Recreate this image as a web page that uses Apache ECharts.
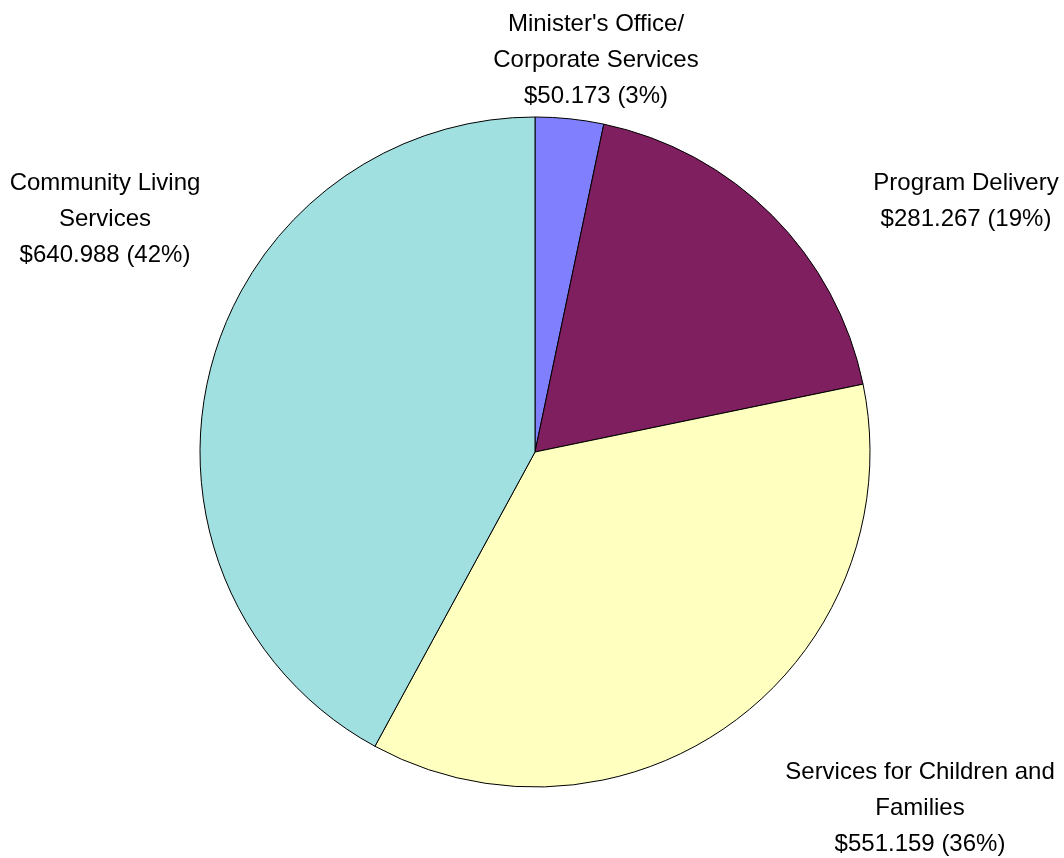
<!DOCTYPE html>
<html>
<head>
<meta charset="utf-8">
<script src="https://cdn.jsdelivr.net/npm/echarts@6/dist/echarts.min.js"></script>
<style>html,body{margin:0;padding:0;background:#fff;}#c{width:1064px;height:858px;}</style>
</head>
<body>
<div id="c"></div>
<script>
const categories = ["Minister's Office/\nCorporate Services", "Program Delivery", "Services for Children and\nFamilies", "Community Living\nServices"];
const values = [50.173, 281.267, 551.159, 640.988];
const percents = ["3%", "19%", "36%", "42%"];
const colors = ["#8080FF", "#7F1F5F", "#FFFFC0", "#A0E0E0"];
// label anchor positions (style, pixels)
const labelPos = [[596, 60], [966, 201], [920, 808], [105, 219]];

const chart = echarts.init(document.getElementById('c'), null, {renderer: 'canvas'});
chart.setOption({
  animation: false,
  series: [{
    type: 'pie',
    center: [535, 452],
    radius: 335,
    startAngle: 90,
    clockwise: true,
    avoidLabelOverlap: false,
    data: categories.map((n, i) => ({name: n, value: values[i], itemStyle: {color: colors[i]}})),
    itemStyle: {borderColor: '#000', borderWidth: 1},
    label: {
      show: true,
      position: 'outside',
      formatter: p => p.name + '\n$' + values[p.dataIndex].toFixed(3) + ' (' + percents[p.dataIndex] + ')',
      fontFamily: "'Liberation Sans', Arial, sans-serif",
      fontSize: 24,
      lineHeight: 36,
      color: '#000',
      align: 'center'
    },
    labelLine: {show: false},
    labelLayout: p => ({x: labelPos[p.dataIndex][0], y: labelPos[p.dataIndex][1], align: 'center', verticalAlign: 'middle'}),
    emphasis: {disabled: true}
  }]
});
</script>
</body>
</html>
